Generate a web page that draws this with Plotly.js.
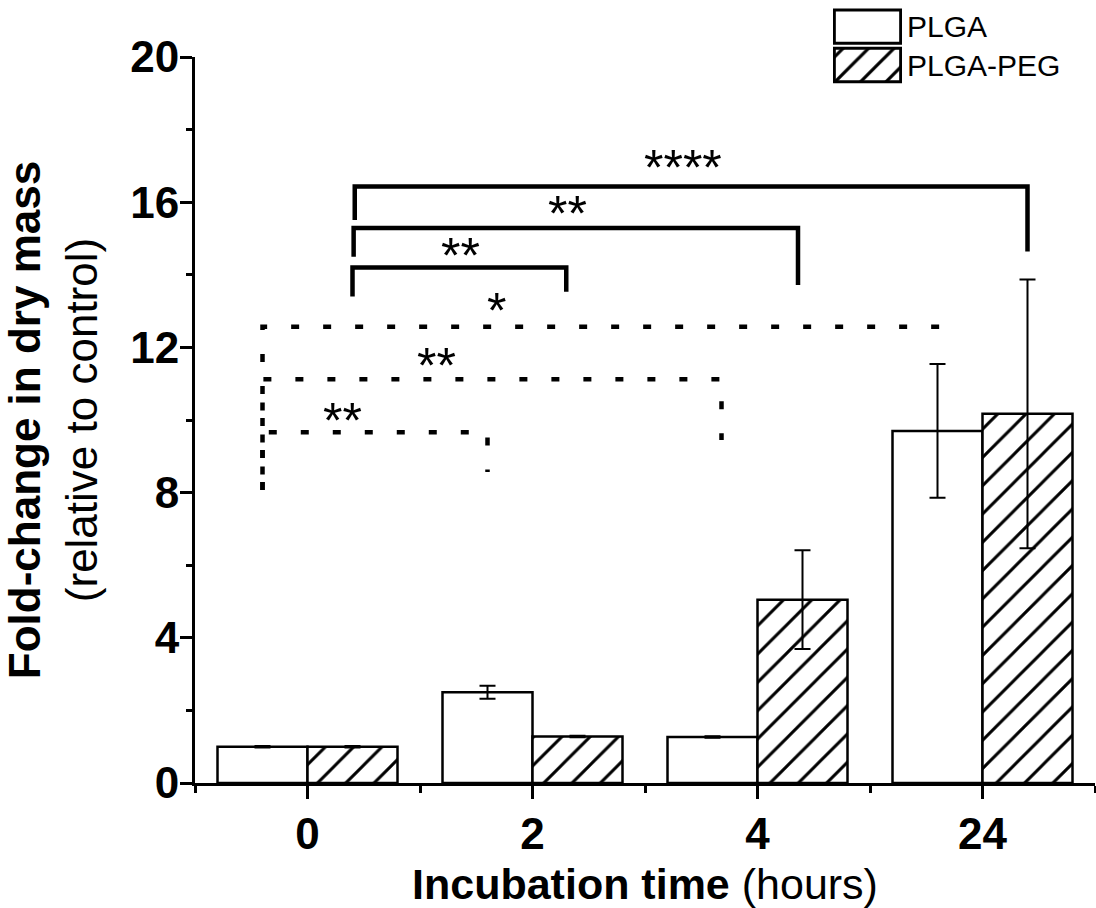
<!DOCTYPE html>
<html><head><meta charset="utf-8">
<script src="https://cdn.plot.ly/plotly-3.0.1.min.js"></script>
<style>html,body{margin:0;padding:0;background:#fff}#chart{width:1096px;height:908px}</style>
</head><body><div id="chart"></div>
<script>
// ---- data ----
const categories = ['0', '2', '4', '24'];          // incubation time (hours)
const seriesNames = ['PLGA', 'PLGA-PEG'];
const plgaMean = [1.00, 2.50, 1.27, 9.70];
const plgaErr  = [0.02, 0.18, 0.02, 1.84];
const pegMean  = [1.00, 1.28, 5.05, 10.17];
const pegErr   = [0.02, 0.02, 1.36, 3.70];
const yTicks   = [0, 4, 8, 12, 16, 20];

// ---- significance brackets (annotation layout) ----
const solidBrackets = [
  {x0: 0.21,  x1: 3.20, y: 16.43, yl: 15.51, yr: 14.64, label: '****', lx: 1.67,  ly: 17.11},
  {x0: 0.205, x1: 2.18, y: 15.29, yl: 14.50, yr: 13.72, label: '**',   lx: 1.156, ly: 15.84},
  {x0: 0.20,  x1: 1.15, y: 14.20, yl: 13.40, yr: 13.53, label: '**',   lx: 0.682, ly: 14.68}
];
const dottedBrackets = [
  {x0: -0.2, x1: 2.81, y: 12.57, yl: 8.07, yr: 11.95, label: '*',  lx: 0.839, ly: 13.17},
  {x0: -0.2, x1: 1.84, y: 11.12, yl: 8.50, yr: 9.45,  label: '**', lx: 0.572, ly: 11.65},
  {x0: -0.2, x1: 0.80, y: 9.66,  yl: 8.07, yr: 8.57,  label: '**', lx: 0.156, ly: 10.14}
];

const FONT = 'Liberation Sans, Arial, Helvetica, sans-serif';
const xIdx = categories.map((c, i) => i);
const outline = {color: '#000', width: 2.5};
const hatch = {shape: '/', fgcolor: '#000', bgcolor: '#fff', size: 20, solidity: 0.15, fillmode: 'replace'};
const err = (arr) => ({type: 'data', array: arr, visible: true, color: '#000', thickness: 2, width: 8});

const traces = [
  {type: 'bar', name: seriesNames[0], x: xIdx, y: plgaMean, showlegend: false,
   marker: {color: '#fff', line: outline}, error_y: err(plgaErr), hoverinfo: 'skip'},
  {type: 'bar', name: seriesNames[1], x: xIdx, y: pegMean, showlegend: false,
   marker: {color: '#fff', line: outline, pattern: hatch}, error_y: err(pegErr), hoverinfo: 'skip'},
  // legend swatches (inset axes)
  {type: 'bar', orientation: 'h', x: [1, 1], y: seriesNames, xaxis: 'x2', yaxis: 'y2',
   width: 0.87, showlegend: false, hoverinfo: 'skip',
   marker: {color: '#fff', line: {color: '#000', width: 3},
            pattern: {shape: ['', '/'], fgcolor: '#000', bgcolor: '#fff', size: 18, solidity: 0.18, fillmode: 'replace'}}}
];

const shapes = [];
const annotations = [];
function bracketPath(b) {
  return `M${b.x0},${b.yl} L${b.x0},${b.y} L${b.x1},${b.y} L${b.x1},${b.yr}`;
}
solidBrackets.forEach(b => {
  shapes.push({type: 'path', xref: 'x', yref: 'y', path: bracketPath(b),
               line: {color: '#000', width: 4.5}});
});
dottedBrackets.forEach(b => {
  shapes.push({type: 'path', xref: 'x', yref: 'y', path: bracketPath(b),
               line: {color: '#000', width: 4.5, dash: '8px,24px'}});
});
solidBrackets.concat(dottedBrackets).forEach(b => {
  annotations.push({x: b.lx, y: b.ly, xref: 'x', yref: 'y', text: b.label, showarrow: false,
                    xanchor: 'center', yanchor: 'middle', yshift: -6,
                    font: {family: FONT, size: 50, color: '#000'}});
});

const H = 908, T = 5, B = 125;
const plotH = H - T - B;
const mainTop = (plotH - 52) / plotH;

const layout = {
  width: 1096, height: 908,
  margin: {l: 195, r: 1, t: T, b: B},
  paper_bgcolor: '#fff', plot_bgcolor: '#fff',
  barmode: 'group', bargap: 0.2, bargroupgap: 0,
  showlegend: false,
  font: {family: FONT, color: '#000'},
  xaxis: {
    range: [-0.5, 3.5], tickmode: 'array', tickvals: xIdx, ticktext: categories,
    ticks: 'outside', ticklen: 13, tickwidth: 3, tickcolor: '#000', ticklabelstandoff: -3,
    showline: true, linewidth: 3, linecolor: '#000', showgrid: false, zeroline: false,
    tickfont: {family: FONT, size: 44, color: '#000', weight: 'bold'},
    minor: {tickmode: 'array', tickvals: [-0.5, 0.5, 1.5, 2.5, 3.5], ticks: 'outside',
            ticklen: 7, tickwidth: 3, tickcolor: '#000', showgrid: false},
    title: {text: '<b>Incubation time</b> (hours)', font: {family: FONT, size: 43, color: '#000'}, standoff: 14},
    fixedrange: true
  },
  yaxis: {
    domain: [0, mainTop], range: [0, 20], tickmode: 'array', tickvals: yTicks,
    ticks: 'outside', ticklen: 12, tickwidth: 3, tickcolor: '#000', ticklabelstandoff: -8,
    showline: true, linewidth: 3, linecolor: '#000', showgrid: false, zeroline: false,
    tickfont: {family: FONT, size: 44, color: '#000', weight: 'bold'},
    minor: {dtick: 2, tick0: 0, ticks: 'outside', ticklen: 6, tickwidth: 3, tickcolor: '#000', showgrid: false},
    title: {text: '<b>Fold-change in dry mass</b><br>(relative to control)',
            font: {family: FONT, size: 44, color: '#000'}, standoff: 20},
    fixedrange: true
  },
  xaxis2: {domain: [(833 - 195) / 900, (902 - 195) / 900], anchor: 'y2', range: [-0.02, 1.02],
           showgrid: false, zeroline: false, showline: false, showticklabels: false, ticks: '', fixedrange: true},
  yaxis2: {domain: [(783 - 84.2) / plotH, (783 - 7.5) / plotH], anchor: 'x2', side: 'right',
           type: 'category', range: [1.5, -0.5], showgrid: false, zeroline: false, showline: false,
           ticks: '', ticklabelstandoff: 4, tickfont: {family: FONT, size: 30, color: '#000'}, fixedrange: true},
  shapes: shapes,
  annotations: annotations
};

Plotly.newPlot('chart', traces, layout, {displayModeBar: false, staticPlot: true});
</script>
</body></html>
